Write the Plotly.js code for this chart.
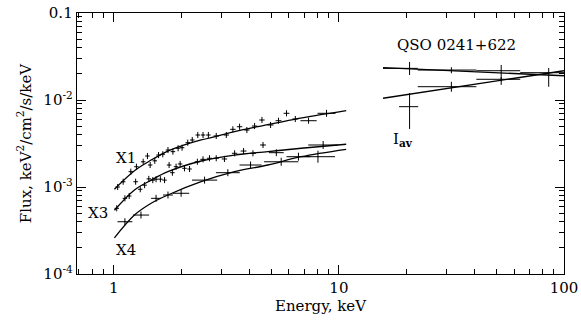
<!DOCTYPE html>
<html><head><meta charset="utf-8">
<script src="https://cdn.plot.ly/plotly-3.0.1.min.js"></script>
<style>body{margin:0;background:#fff}#c{width:581px;height:320px}</style>
</head><body><div id="c"></div>
<script>
// ---- X1 data ----
var x1E = [1.04,1.10,1.19,1.26,1.35,1.41,1.45,1.52,1.58,1.65,1.74,1.83,1.93,2.01,2.13,2.23,2.36,2.49,2.63,2.85,3.16,3.38,3.62,3.90,4.22,4.55,4.97,5.39,5.85,6.40,7.33,8.81];
var x1F = [1.00e-3,1.15e-3,1.50e-3,1.71e-3,1.95e-3,2.27e-3,1.79e-3,2.00e-3,2.33e-3,2.38e-3,2.66e-3,2.55e-3,2.79e-3,2.83e-3,3.23e-3,3.47e-3,3.96e-3,3.96e-3,3.96e-3,3.86e-3,3.96e-3,4.60e-3,4.93e-3,4.52e-3,5.02e-3,5.89e-3,5.16e-3,5.78e-3,7.03e-3,6.05e-3,5.78e-3,7.03e-3];
var x1ExDex = [0.010,0.010,0.010,0.010,0.010,0.010,0.010,0.010,0.010,0.010,0.010,0.010,0.010,0.010,0.010,0.010,0.010,0.010,0.010,0.012,0.012,0.012,0.012,0.012,0.012,0.012,0.013,0.013,0.013,0.013,0.036,0.040];
var x1EyDex = [0.035,0.035,0.035,0.035,0.035,0.035,0.035,0.035,0.035,0.035,0.035,0.035,0.035,0.035,0.035,0.035,0.035,0.035,0.035,0.035,0.035,0.035,0.035,0.035,0.035,0.035,0.035,0.035,0.035,0.035,0.035,0.040];
// ---- X3 data ----
var x3E = [1.03,1.12,1.17,1.25,1.31,1.37,1.43,1.49,1.54,1.61,1.68,1.76,1.82,1.89,1.97,2.06,2.17,2.35,2.49,2.66,2.85,3.10,3.44,3.77,4.15,4.60,5.27,8.51];
var x3F = [5.69e-4,7.41e-4,7.88e-4,1.15e-3,9.42e-4,1.05e-3,1.24e-3,1.20e-3,1.23e-3,1.23e-3,1.20e-3,1.79e-3,1.46e-3,1.71e-3,1.84e-3,1.64e-3,1.61e-3,1.95e-3,2.08e-3,2.14e-3,2.14e-3,2.10e-3,2.44e-3,2.59e-3,2.44e-3,3.04e-3,2.48e-3,3.04e-3];
var x3ExDex = [0.010,0.010,0.010,0.010,0.010,0.010,0.010,0.010,0.010,0.010,0.010,0.010,0.010,0.010,0.010,0.010,0.010,0.012,0.012,0.012,0.012,0.012,0.012,0.013,0.013,0.013,0.033,0.066];
var x3EyDex = [0.035,0.035,0.035,0.035,0.035,0.035,0.035,0.035,0.035,0.035,0.035,0.035,0.035,0.035,0.035,0.035,0.035,0.035,0.035,0.035,0.035,0.035,0.035,0.035,0.035,0.035,0.040,0.046];
// ---- X4 data ----
var x4E = [1.12,1.32,1.54,1.74,1.99,2.53,3.21,4.05,5.54,6.61,8.07];
var x4F = [3.99e-4,4.76e-4,7.41e-4,8.09e-4,8.47e-4,1.20e-3,1.46e-3,1.79e-3,1.95e-3,2.23e-3,2.23e-3];
var x4ExDex = [0.033,0.036,0.022,0.022,0.036,0.056,0.053,0.049,0.076,0.053,0.076];
var x4EyDex = [0.040,0.040,0.040,0.040,0.040,0.040,0.040,0.040,0.046,0.046,0.069];
// ---- model curves ----
var curveE  = [1.006,1.235,1.465,1.738,2.06,2.443,2.90,3.436,4.365,6.35,10.77];
var curveX1 = [9.42e-4,1.54e-3,2.04e-3,2.59e-3,3.04e-3,3.47e-3,3.86e-3,4.32e-3,4.93e-3,6.0e-3,7.53e-3];
var curve34E = [1.006,1.235,1.465,1.738,2.443,3.436,4.835,6.80,10.77];
var curveX3 = [5.4e-4,9.25e-4,1.20e-3,1.50e-3,1.99e-3,2.33e-3,2.55e-3,2.79e-3,3.10e-3];
var curveX4 = [2.6e-4,4.76e-4,6.50e-4,8.09e-4,1.15e-3,1.50e-3,1.79e-3,2.23e-3,2.71e-3];
// ---- high-energy data ----
var heE = [20.6,31.6,52.6,85.5];
var heElo = [15.7,22.4,40.8,63.9];
var heEhi = [22.4,40.8,63.9,100];
var heF = [0.0231,0.0221,0.0217,0.0206];
var heFlo = [0.0194,0.0203,0.0149,0.0142];
var heFhi = [0.0274,0.0238,0.0253,0.0233];
var avE = [20.6,31.6,52.6];
var avElo = [18.5,22.4,40.8];
var avEhi = [22.5,40.8,63.9];
var avF = [0.00838,0.01422,0.01730];
var avFlo = [0.00465,0.01245,0.0164];
var avFhi = [0.0120,0.0162,0.0183];
var lineE = [15.7,100];
var lineUp = [0.0235,0.0190];
var lineLow = [0.01047,0.0217];

function dexErr(v, d, up){ return v.map(function(a,i){ return up ? a*(Math.pow(10,d[i])-1) : a*(1-Math.pow(10,-d[i])); }); }
function diff(a,b){ return a.map(function(v,i){ return Math.abs(v-b[i]); }); }

var eb = {type:'data', symmetric:false, color:'#000', thickness:1, width:0};
function pts(x,y,exp,exm,eyp,eym){
  return {x:x,y:y,mode:'markers',type:'scatter',showlegend:false,hoverinfo:'skip',
    marker:{size:1,color:'#000'},
    error_x:Object.assign({},eb,{array:exp,arrayminus:exm}),
    error_y:Object.assign({},eb,{array:eyp,arrayminus:eym})};
}
function ln(x,y,sp){
  return {x:x,y:y,mode:'lines',type:'scatter',showlegend:false,hoverinfo:'skip',
    line:{color:'#000',width:1.3,shape:sp?'spline':'linear'}};
}
var data = [
  pts(x1E,x1F,dexErr(x1E,x1ExDex,true),dexErr(x1E,x1ExDex,false),dexErr(x1F,x1EyDex,true),dexErr(x1F,x1EyDex,false)),
  pts(x3E,x3F,dexErr(x3E,x3ExDex,true),dexErr(x3E,x3ExDex,false),dexErr(x3F,x3EyDex,true),dexErr(x3F,x3EyDex,false)),
  pts(x4E,x4F,dexErr(x4E,x4ExDex,true),dexErr(x4E,x4ExDex,false),dexErr(x4F,x4EyDex,true),dexErr(x4F,x4EyDex,false)),
  pts(heE,heF,diff(heEhi,heE),diff(heE,heElo),diff(heFhi,heF),diff(heF,heFlo)),
  pts(avE,avF,diff(avEhi,avE),diff(avE,avElo),diff(avFhi,avF),diff(avF,avFlo)),
  ln(curveE,curveX1,true), ln(curve34E,curveX3,true), ln(curve34E,curveX4,true),
  ln(lineE,lineUp,false), ln(lineE,lineLow,false)
];

var font = {family:'DejaVu Serif, serif', size:15, color:'#000'};
var xMinor = [0.7,0.8,0.9,2,3,4,5,6,7,8,9,20,30,40,50,60,70,80,90];
var yMinor = [];
[1e-4,1e-3,1e-2].forEach(function(d){ for(var k=2;k<=9;k++) yMinor.push(d*k); });

function ann(t,x,y){ return {text:t, xref:'paper', yref:'paper', x:x, y:y, xanchor:'center', yanchor:'middle', showarrow:false, font:font}; }

var layout = {
  width:581, height:320,
  margin:{l:77,r:17,t:13,b:46},
  paper_bgcolor:'#fff', plot_bgcolor:'#fff',
  font:font,
  xaxis:{type:'log', range:[Math.log10(0.686),2], tickmode:'array', tickvals:[1,10,100], ticktext:['1','10','100'],
    ticks:'inside', ticklen:9, tickwidth:1, tickcolor:'#000', mirror:'ticks', showline:true, linecolor:'#000', linewidth:1.3,
    showgrid:false, zeroline:false,
    minor:{tickvals:xMinor, ticks:'inside', ticklen:5, tickwidth:1, tickcolor:'#000', showgrid:false},
    title:{text:'Energy, keV', font:font, standoff:4}},
  yaxis:{type:'log', range:[-4,-1], tickmode:'array', tickvals:[1e-4,1e-3,1e-2,0.1],
    ticktext:['10<sup>-4</sup>','10<sup>-3</sup>','10<sup>-2</sup>','0.1'],
    ticks:'inside', ticklen:9, tickwidth:1, tickcolor:'#000', mirror:'ticks', showline:true, linecolor:'#000', linewidth:1.3,
    showgrid:false, zeroline:false,
    minor:{tickvals:yMinor, ticks:'inside', ticklen:5, tickwidth:1, tickcolor:'#000', showgrid:false},
    title:{text:'Flux, keV<sup>2</sup>/cm<sup>2</sup>/s/keV', font:font, standoff:8}},
  annotations:[
    ann('X1', 0.1006, 0.444),
    ann('X3', 0.043, 0.234),
    ann('X4', 0.1006, 0.092),
    ann('QSO 0241+622', 0.78, 0.877),
    ann('I<sub><b>av</b></sub>', 0.669, 0.515)
  ]
};
Plotly.newPlot('c', data, layout, {staticPlot:true, displayModeBar:false});
</script></body></html>
